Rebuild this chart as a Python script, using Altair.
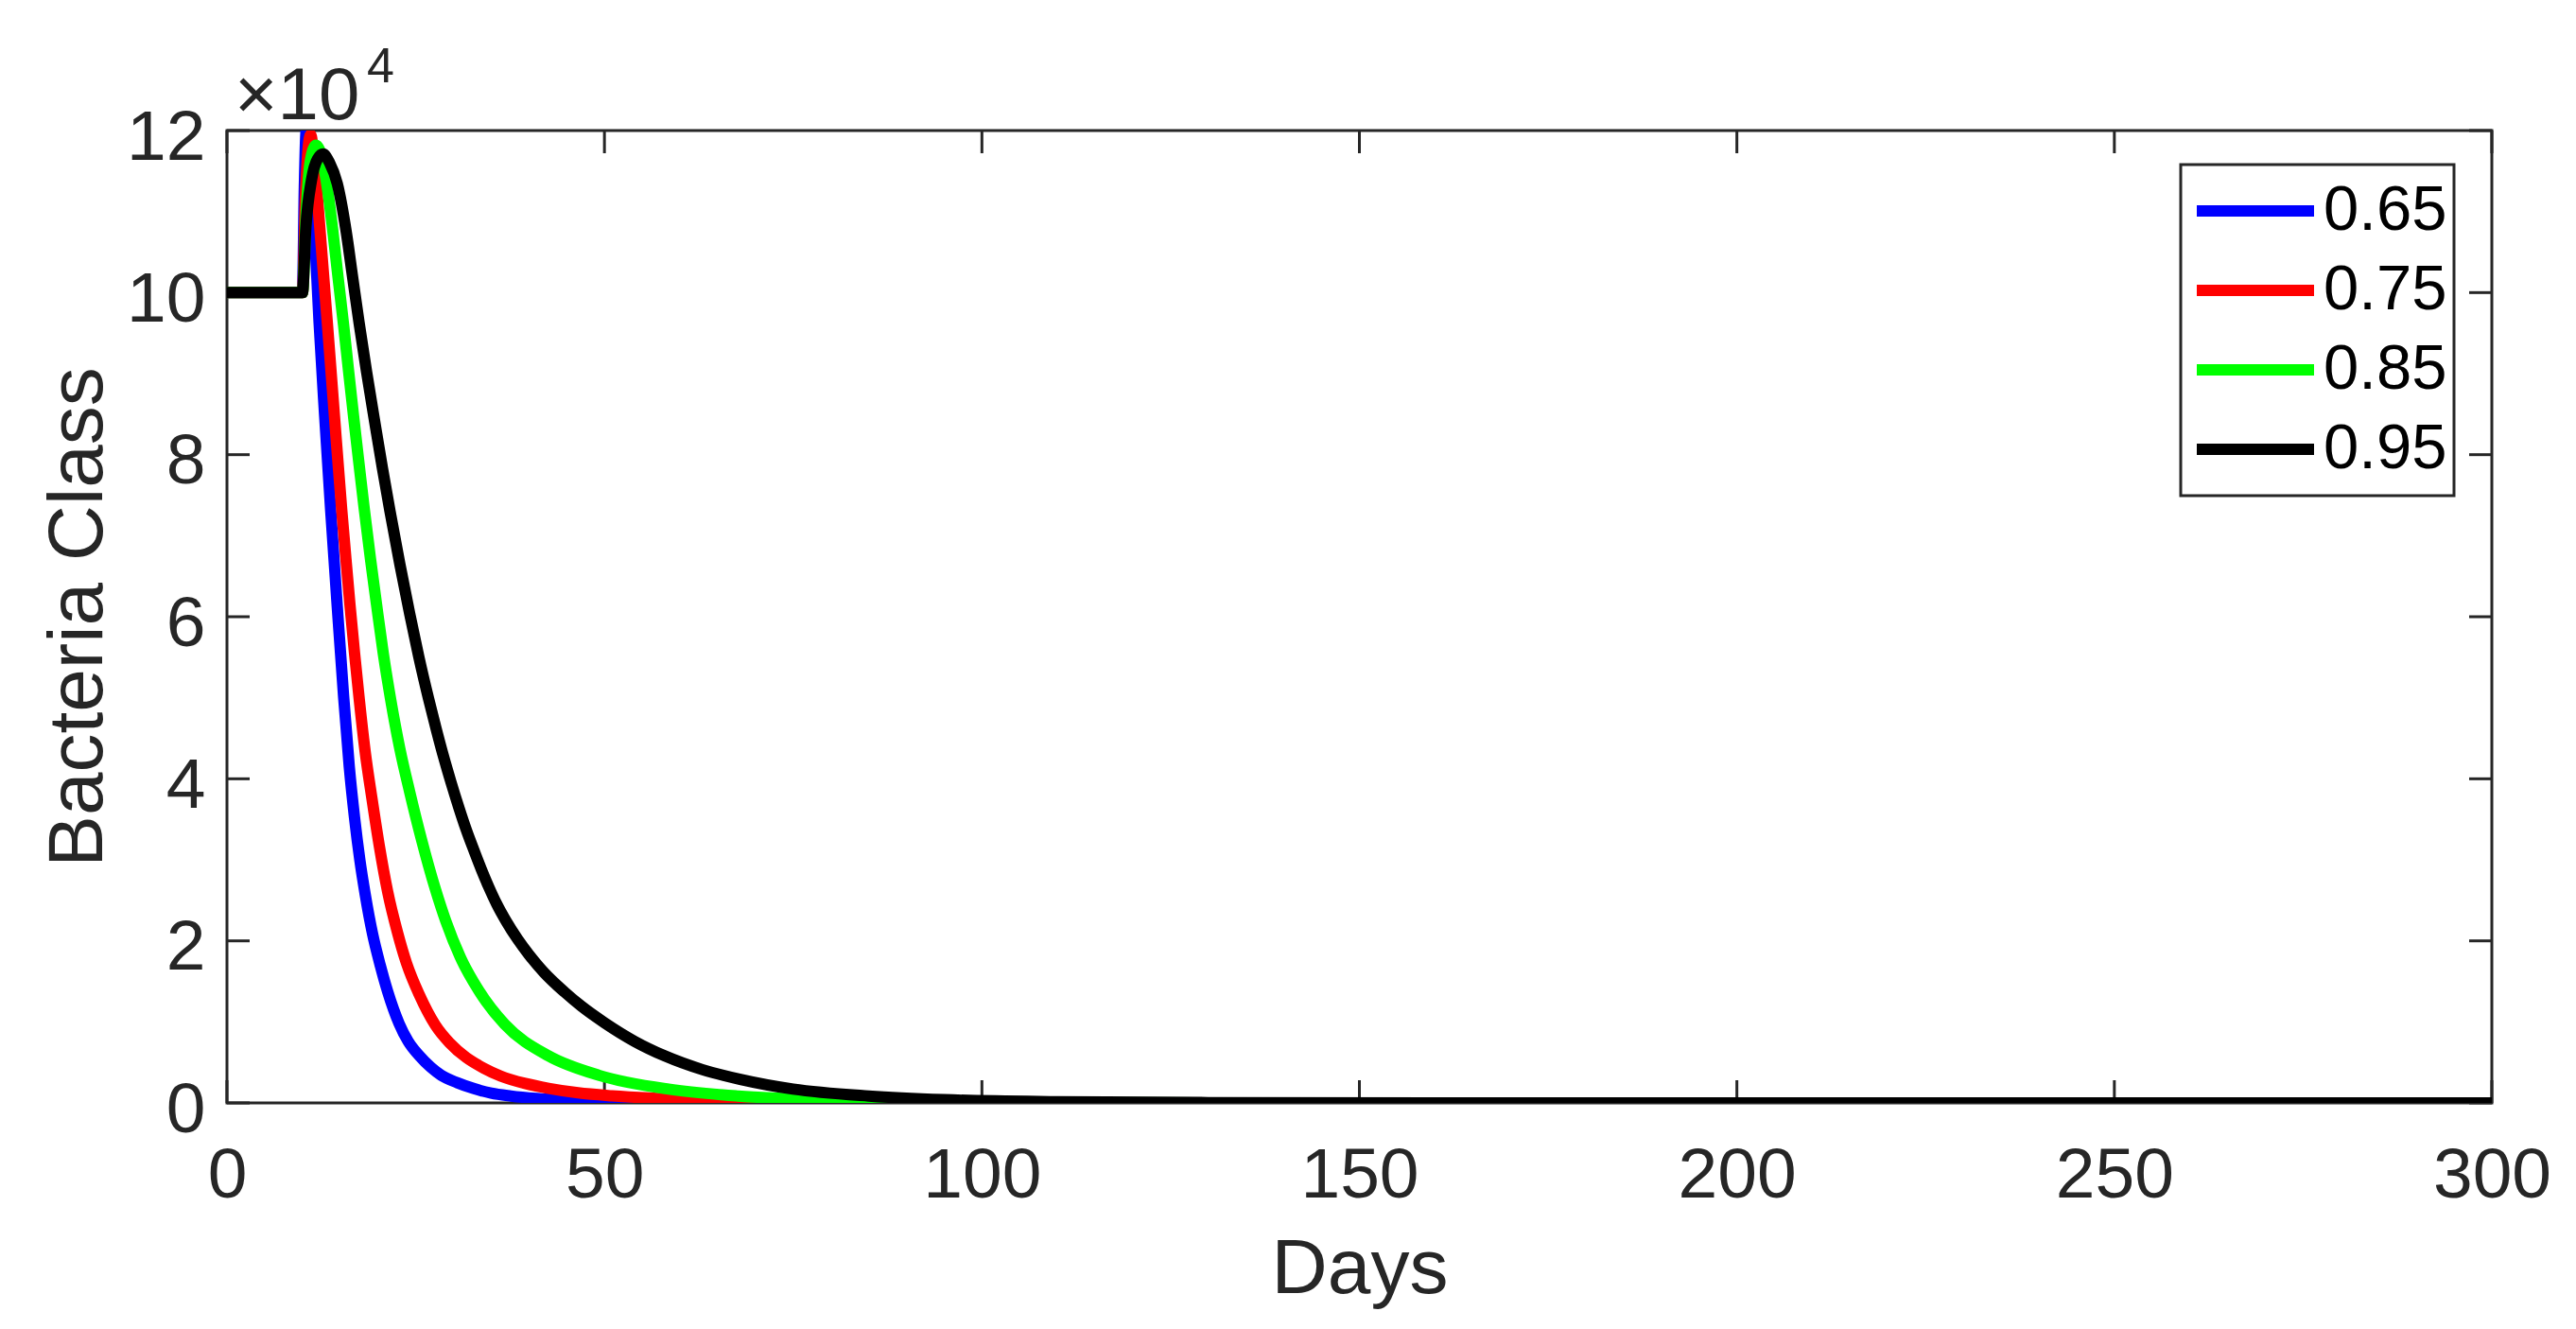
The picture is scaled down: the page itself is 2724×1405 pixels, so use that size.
import altair as alt
import pandas as pd

# ---------------- data (values in units of 10^4) ----------------
series = ["0.65", "0.75", "0.85", "0.95"]
colors = ["#0000ff", "#ff0000", "#00ff00", "#000000"]

days_065 = [0, 10, 10.25, 10.5, 10.9, 11.57, 12.2, 12.95, 13.75, 14.6, 15.45, 16.2, 16.9, 17.6,
            18.3, 19.3, 20.3, 21.3, 22.8, 24.0, 25.5, 27.0, 28.4, 30.5, 32.6, 35.0, 37.6, 41.0,
            44.7, 50, 57, 65, 80, 300]
vals_065 = [10, 10, 11.3, 12.0, 11.75, 10.8, 9.64, 8.47, 7.30, 6.14, 5.02, 4.15, 3.52, 3.00,
            2.58, 2.08, 1.70, 1.37, 0.98, 0.76, 0.58, 0.44, 0.34, 0.25, 0.18, 0.12, 0.085, 0.055,
            0.035, 0.018, 0.008, 0.003, 0.0, 0.0]

days_075 = [0, 10, 10.4, 11.07, 11.6, 12.3, 13.3, 14.2, 15.2, 15.75, 16.3, 16.9, 17.5, 18.3,
            19.2, 20.2, 21.3, 22.6, 23.8, 25.5, 27.6, 29.5, 31.7, 34.0, 36.3, 39.5, 42.6, 46.5,
            51, 56, 61.4, 70, 80, 95, 115, 300]
vals_075 = [10, 10, 11.2, 11.95, 11.6, 10.8, 9.62, 8.52, 7.32, 6.72, 6.14, 5.55, 5.00, 4.34,
            3.76, 3.16, 2.60, 2.10, 1.72, 1.33, 0.96, 0.74, 0.56, 0.43, 0.33, 0.24, 0.18, 0.125,
            0.088, 0.06, 0.04, 0.02, 0.009, 0.003, 0.0, 0.0]

days_085 = [0, 10, 10.5, 11.0, 11.78, 12.5, 13.2, 14.0, 14.7, 15.45, 16.1, 16.8, 17.5, 18.2,
            19.0, 19.8, 20.7, 21.7, 22.9, 24.2, 25.8, 27.6, 29.0, 30.9, 33.4, 36.8, 42.6, 49.3,
            58.5, 67.7, 80, 95, 115, 140, 300]
vals_085 = [10, 10, 11.0, 11.6, 11.82, 11.7, 11.35, 10.78, 10.2, 9.60, 9.04, 8.45, 7.88, 7.32,
            6.72, 6.16, 5.55, 4.97, 4.37, 3.84, 3.24, 2.64, 2.24, 1.80, 1.38, 0.97, 0.58, 0.34,
            0.17, 0.085, 0.035, 0.012, 0.002, 0.0, 0.0]

days_095 = [0, 10, 10.45, 11.2, 12.0, 12.74, 13.6, 14.6, 15.8, 16.6, 17.5, 18.5, 19.6, 20.6,
            21.6, 22.9, 24.2, 25.4, 26.7, 27.7, 28.7, 29.7, 30.7, 31.7, 32.7, 33.7, 34.7, 35.7,
            37.0, 38.5, 40.0, 42.0, 44.7, 47.0, 50.0, 54.0, 58.0, 63.0, 68.0, 75.0, 85.0, 95.0,
            110, 130, 160, 300]
vals_095 = [10, 10, 10.8, 11.39, 11.65, 11.71, 11.6, 11.35, 10.75, 10.22, 9.63, 9.02, 8.39, 7.83,
            7.30, 6.65, 6.04, 5.51, 4.99, 4.62, 4.27, 3.95, 3.65, 3.37, 3.12, 2.88, 2.66, 2.46,
            2.24, 2.02, 1.83, 1.61, 1.37, 1.19, 0.99, 0.76, 0.58, 0.41, 0.29, 0.17, 0.085, 0.04,
            0.015, 0.004, 0.0005, 0.0]

x_ticks = [0, 50, 100, 150, 200, 250, 300]
y_ticks = [0, 2, 4, 6, 8, 10, 12]
exponent_text = ["\u00d710", "4"]
SCALE = 1e4

# ---------------- build table ----------------
rows = []
for name, ds, vs in zip(series, [days_065, days_075, days_085, days_095],
                        [vals_065, vals_075, vals_085, vals_095]):
    for d, v in zip(ds, vs):
        rows.append({"day": d, "value": v * SCALE, "k": name})
df = pd.DataFrame(rows)

W, H = 2395, 1028
TL = 24
FONT = "Liberation Sans"
AX = "#262626"
LW = 12

xscale = alt.Scale(domain=[0, 300], nice=False, zero=False)
yscale = alt.Scale(domain=[0, 12 * SCALE], nice=False, zero=False)

lines = alt.Chart(df).mark_line(strokeWidth=LW, clip=True, interpolate="monotone",
                                strokeJoin="round").encode(
    x=alt.X("day:Q", scale=xscale, axis=alt.Axis(
        title="Days", values=x_ticks, domain=False, ticks=False, tickSize=0, grid=False,
        labelFontSize=75, labelFont=FONT, labelColor=AX, labelPadding=99,
        labelBaseline="alphabetic", labelFlush=False, labelOverlap=False, labelBound=False,
        titleFontSize=82, titleFont=FONT, titleColor=AX, titleFontWeight="normal",
        titleX=W / 2, titleY=200, titleAlign="center", titleBaseline="alphabetic")),
    y=alt.Y("value:Q", scale=yscale, axis=alt.Axis(
        title="Bacteria Class", values=[t * SCALE for t in y_ticks],
        labelExpr="datum.value / 10000", domain=False, ticks=False, tickSize=0, grid=False,
        labelFontSize=75, labelFont=FONT, labelColor=AX, labelPadding=23,
        labelBaseline="alphabetic", labelOffset=30, labelFlush=False, labelOverlap=False,
        labelBound=False,
        titleFontSize=82, titleFont=FONT, titleColor=AX, titleFontWeight="normal",
        titleX=-133, titleY=H / 2, titleAngle=270, titleAlign="center",
        titleBaseline="alphabetic")),
    color=alt.Color("k:N", scale=alt.Scale(domain=series, range=colors), legend=alt.Legend(
        title=None, orient="none", legendX=2066, legendY=36, symbolType="stroke",
        symbolSize=15376, symbolStrokeWidth=LW, clipHeight=84, rowPadding=0,
        labelFontSize=67, labelFont=FONT, labelColor="#000000", labelOffset=4,
        symbolOffset=4, padding=7, strokeColor=AX, fillColor="#ffffff")),
)

xt = pd.DataFrame({"day": x_ticks})
yt = pd.DataFrame({"value": [t * SCALE for t in y_ticks]})
tick = dict(color=AX, strokeWidth=3)

xb = alt.Chart(xt).mark_rule(**tick).encode(
    x=alt.X("day:Q", scale=xscale), y=alt.value(H), y2=alt.value(H - TL))
xtp = alt.Chart(xt).mark_rule(**tick).encode(
    x=alt.X("day:Q", scale=xscale), y=alt.value(0), y2=alt.value(TL))
yl = alt.Chart(yt).mark_rule(**tick).encode(
    y=alt.Y("value:Q", scale=yscale), x=alt.value(0), x2=alt.value(TL))
yr = alt.Chart(yt).mark_rule(**tick).encode(
    y=alt.Y("value:Q", scale=yscale), x=alt.value(W), x2=alt.value(W - TL))

t1 = alt.Chart(pd.DataFrame({"t": [exponent_text[0]]})).mark_text(
    align="left", baseline="alphabetic", fontSize=78, font=FONT, color=AX).encode(
    x=alt.value(8), y=alt.value(-12), text="t:N")
t2 = alt.Chart(pd.DataFrame({"t": [exponent_text[1]]})).mark_text(
    align="left", baseline="alphabetic", fontSize=52, font=FONT, color=AX).encode(
    x=alt.value(148), y=alt.value(-51), text="t:N")

chart = alt.layer(xb, xtp, yl, yr, lines, t1, t2).properties(
    width=W, height=H,
    padding={"left": 232, "top": 130, "right": 70, "bottom": 220},
    autosize=alt.AutoSizeParams(type="none"),
).configure(font=FONT).configure_view(stroke=AX, strokeWidth=3).configure_legend(strokeWidth=3)

chart.save("out.html", embed_options={"renderer": "svg", "actions": False})
